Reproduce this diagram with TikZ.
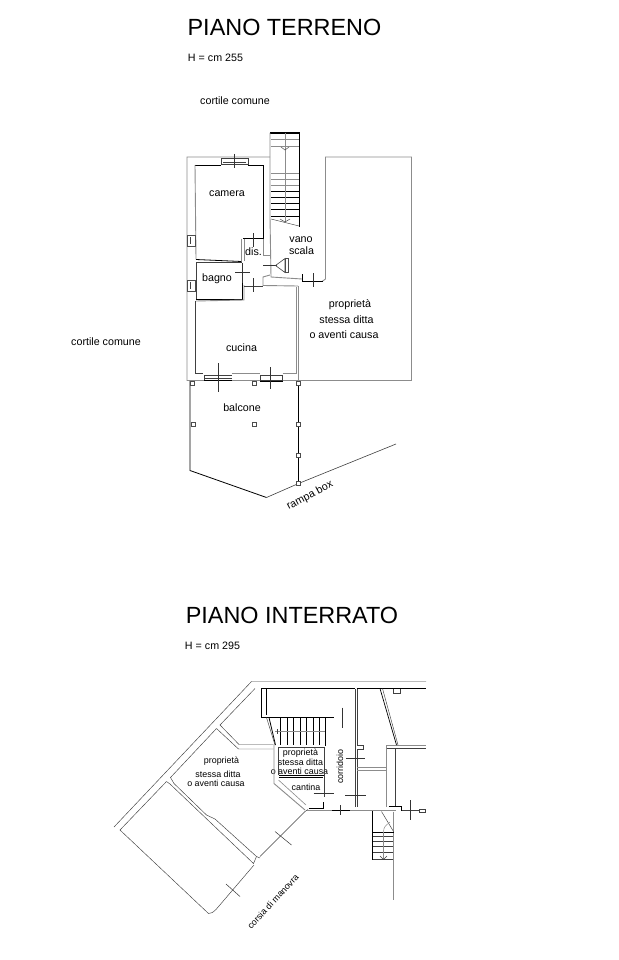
\documentclass[tikz,border=0pt]{standalone}
\usepackage{fontspec}
\setmainfont{Liberation Sans}
\definecolor{wallgray}{gray}{0.55}
\tikzset{
	title/.style={font=\fontsize{23.4}{25}\selectfont},
	label/.style={font=\fontsize{10.7}{12}\selectfont,inner sep=0pt},
	smalllabel/.style={font=\fontsize{8.9}{10}\selectfont,inner sep=0pt},
	wall/.style={draw=wallgray,line width=0.9pt},
	thinwall/.style={draw=black!75,line width=0.45pt},
	heavy/.style={draw=black,line width=1.2pt},
	tick/.style={draw=black!80,line width=0.5pt},
	pillar/.style={draw=black!70,line width=0.5pt,fill=white}
}
\begin{document}
\begin{tikzpicture}[x=1pt,y=-1pt]
	\useasboundingbox[fill=white] (0,0) rectangle (618,960);

	% piano terreno
	\node [title] (t1) at (284.5,27) {PIANO TERRENO};
	\node [label] (h1) at (215.5,58) {H = cm 255};
	\node [label] (c1) at (235,101) {cortile comune};
	\node [label] (c2) at (106,341.5) {cortile comune};
	\node [label] (camera) at (227,193.5) {camera};
	\node [label] (vano) at (301,240) {vano};
	\node [label] (scala) at (301.5,250.5) {scala};
	\node [label] (dis) at (253.5,251.5) {dis.};
	\node [label] (bagno) at (217,279) {bagno};
	\node [label] (cucina) at (241.5,347.5) {cucina};
	\node [label] (p1) at (350,305) {proprietà};
	\node [label] (p2) at (346.5,320) {stessa ditta};
	\node [label] (p3) at (344,335) {o aventi causa};
	\node [label] (balcone) at (242,407.5) {balcone};
	\node [label,rotate=28] (rampa) at (310,495.5) {rampa box};

	% perimetro
	\draw [wall] (270,157) -- (187,157) -- (187,380.5) -- (411.5,380.5) -- (411.5,157) -- (325.5,157) -- (325.5,279) -- (322,281.5);
	\draw [wall] (298.5,286) -- (298.5,380.5);
	% scala
	\draw [heavy] (270,133) -- (299.5,133) -- (299.5,226.5);
	\draw [wall] (270,133) -- (270,217) -- (271,277) -- (302,279);
	\foreach \y in {139,146,173,179,185} \draw [wall,line width=0.5pt] (271,\y) -- (299,\y);
	\foreach \y in {191,197,203,209,216} \draw [thinwall,black] (271,\y) -- (299,\y);
	\draw [wall,line width=0.5pt] (285,133) -- (285,222);
	\draw [thinwall] (281,147) -- (285,150) -- (289,147);
	\draw [thinwall] (271,219) -- (299,226);
	\draw [thinwall] (280,219) -- (285,222) -- (290,219);
	% stanze
	\draw [heavy,line width=0.8pt] (195,165) -- (221,165);
	\draw [heavy,line width=0.8pt] (248,165) -- (263.5,165) -- (263.5,238.5) -- (243,238.5);
	\draw [wall] (195,165) -- (196,259);
	\draw [heavy,line width=0.8pt] (196,259.5) -- (241.5,261.5);
	\draw [wall] (241.5,238.5) -- (241.5,261);
	\draw [wall] (244,238.5) -- (244,261);
	\draw [wall] (263.5,238.5) -- (263.5,255) -- (270,255);
	\draw [wall] (270,275) -- (263,277) -- (263,285.5) -- (298,286);
	\draw [thinwall] (196,262) -- (196,299.5);
	\draw [heavy,line width=0.8pt] (196,299.5) -- (242.5,299.5) -- (242.5,270);
	\draw [wall] (244,285) -- (244,300) -- (196,301);
	\draw [thinwall] (196,262) -- (241.5,262);
	\draw [thinwall] (244,286) -- (263,286);
	\draw [thinwall] (195.5,301) -- (195.5,373.5) -- (203,373.5);
	\draw [wall] (232,373.5) -- (260,373.5);
	\draw [wall] (282.5,373.5) -- (296.5,373.5) -- (296.5,286.5);
	\draw [heavy,line width=0.8pt] (302,274) -- (302,281) -- (323,281);
	% finestre
	\draw [thinwall] (221,164) -- (221,158) -- (248,158) -- (248,164) -- cycle;
	\draw [thinwall] (223,162) -- (246,162);
	\draw [pillar] (187,235) rectangle (195,246);
	\draw [pillar] (187,280) rectangle (195,291);
	\draw [thinwall] (190.5,237) -- (190.5,244);
	\draw [thinwall] (190.5,282) -- (190.5,289);
	\draw [thinwall] (204,375) -- (231.5,375);
	\draw [heavy,line width=0.8pt] (204,380.5) -- (231.5,380.5);
	\draw [thinwall] (204,378) -- (231.5,378) (204,375) -- (204,380);
	\draw [thinwall] (260,375) rectangle (282.5,380.5);
	\draw [heavy,line width=0.8pt] (260,381) -- (282.5,381);
	% tacche
	\draw [tick] (234,154) -- (234,168);
	\draw [tick] (253.5,233) -- (253.5,247);
	\draw [tick] (235,272.5) -- (250,272.5) (242.5,263) -- (242.5,283);
	\draw [tick] (253.5,278) -- (253.5,292);
	\draw [tick] (263,265.5) -- (277,265.5);
	\draw [tick] (313.5,273) -- (313.5,287);
	\draw [tick] (218.5,363) -- (218.5,391.5);
	\draw [tick] (270.5,367) -- (270.5,389);
	% triangolo scala
	\draw [thinwall,line width=0.6pt] (275.5,265.5) -- (285,258.5) -- (285,272.5) -- cycle;
	\draw [pillar] (285,258.5) rectangle (288.5,272.5);
	% balcone
	\draw [heavy,line width=0.8pt] (190,381) -- (190,470.5) -- (266.5,497.5);
	\draw [heavy] (298.5,381) -- (298.5,483.5);
	\draw [thinwall,line width=0.6pt] (266.5,497.5) -- (298.5,483.5) -- (396,444);
	\foreach \x/\y in {192.5/383,254.5/383,298.5/383,193/424,254.5/424,298.5/424,298.5/455.5,298.5/483.5}
		\draw [pillar] (\x-2,\y-2) rectangle (\x+2,\y+2);

	% piano interrato
	\node [title] (t2) at (292,615) {PIANO INTERRATO};
	\node [label] (h2) at (212.5,646) {H = cm 295};
	\node [smalllabel] (q1) at (221.5,761.5) {proprietà};
	\node [smalllabel] (q2) at (218,774) {stessa ditta};
	\node [smalllabel] (q3) at (216,783.5) {o aventi causa};
	\node [smalllabel] (r1) at (300.5,753.5) {proprietà};
	\node [smalllabel] (r2) at (300.5,762.5) {stessa ditta};
	\node [smalllabel] (r3) at (299.5,771) {o aventi causa};
	\node [smalllabel] (cantina) at (306,787) {cantina};
	\node [smalllabel,rotate=90] (corridoio) at (340,766.5) {corridoio};
	\node [smalllabel,rotate=47] (corsia) at (273,901.5) {corsia di manovra};

	% contorno
	\draw [thinwall] (114,827) -- (251.5,681.5) -- (426,681.5);
	\draw [thinwall] (255,688.5) -- (220,725) -- (239,744.5) -- (273.5,744.5);
	\draw [thinwall] (216.5,728.5) -- (170.5,777.5) -- (174,783.5) -- (206.5,815) -- (215,819) -- (256.5,856.5);
	\draw [thinwall] (216.5,728.5) -- (238.5,749) -- (273.5,749);
	\draw [thinwall] (166.5,781.5) -- (120,830) -- (208.5,913.5) .. controls (212,913) .. (216,909.5) -- (254,865);
	\draw [thinwall] (166.5,781.5) -- (170,784) -- (253.5,863.5) -- (256.5,856.5) -- (260,858);
	\draw [thinwall] (260,856.5) -- (305,811.5) -- (308,809.5);
	\draw [tick] (275,831.5) -- (291.5,845);
	\draw [tick] (226,884) -- (240,896.5);
	% muri neri
	\draw [heavy] (333.5,717.5) -- (261.5,717.5) -- (261.5,688.5) -- (355,688.5);
	\draw [heavy] (356.5,688.5) -- (426,688.5);
	\draw [heavy,line width=0.7pt] (266,688.5) -- (266,715);
	\draw [thinwall] (355,688.5) -- (355,807);
	\draw [thinwall] (357,688.5) -- (357,745);
	\draw [thinwall] (357,749.5) -- (357,807);
	% scala
	\draw [thinwall] (266.5,717.5) -- (275,745);
	\draw [heavy,line width=0.8pt] (269,717.5) -- (275.5,745);
	\foreach \x in {280.5,287,293.5,300.5,306.5,313.5,319.5} \draw [thinwall,black] (\x,717.5) -- (\x,745);
	\draw [wall,line width=0.6pt] (275,731.5) -- (325.5,731.5);
	\draw [heavy,line width=0.8pt] (325.5,717.5) -- (325.5,746);
	\draw [thinwall] (277,729) -- (277,734);
	% cantina
	\draw [wall] (274,745) -- (274,783.5) -- (305,810);
	\draw [wall,line width=0.6pt] (278.5,780) -- (306,805);
	\draw [thinwall] (324.5,747.5) -- (278.5,747.5) -- (278.5,775);
	\draw [heavy,line width=0.8pt] (278.5,775) -- (324.5,775);
	\draw [heavy,line width=0.8pt] (278.5,777.5) -- (323,777.5);
	\draw [thinwall] (324.5,747.5) -- (324.5,797);
	\draw [heavy,line width=0.8pt] (308.5,808.5) -- (323.5,808.5) -- (323.5,802);
	\draw [wall] (307,810) -- (332,810);
	\draw [thinwall,black] (332,810) -- (350,810);
	\draw [wall] (350,810) -- (396,810);
	\draw [heavy,line width=0.8pt] (388.5,806.5) -- (401.5,806.5) -- (401.5,811);
	\draw [thinwall] (401.5,810) -- (419.5,810);
	\draw [thinwall] (419.5,809.5) rectangle (425.5,812.5);
	% corridoio
	\draw [wall] (357,767.5) -- (386.5,767.5);
	\draw [wall,line width=0.5pt] (357,770) -- (386.5,770);
	\draw [wall] (386.5,745) -- (386.5,807);
	\draw [thinwall] (357,745) -- (363.5,745) -- (363.5,749.5) -- (357,749.5);
	\draw [thinwall] (386.5,748.5) -- (395.5,748.5) -- (395.5,806);
	\draw [wall] (386.5,745) -- (426,745);
	\draw [thinwall] (395.5,748.5) -- (426,748.5);
	\draw [heavy,line width=0.7pt] (380,688.5) -- (396.5,745);
	\draw [thinwall] (382.5,688.5) -- (398,745);
	\draw [thinwall] (393.5,688.5) -- (393.5,693.5) -- (400,693.5) -- (400,688.5);
	% tacche
	\draw [tick] (342.5,707.5) -- (342.5,727.5);
	\draw [tick] (346,758.5) -- (365,758.5);
	\draw [tick] (345,795.5) -- (366,795.5);
	\draw [tick] (313.5,793.5) -- (334,793.5);
	\draw [tick] (340,805) -- (340,815);
	\draw [tick] (410,800) -- (410,820);
	% scala esterna
	\draw [heavy,line width=0.9pt] (372.5,811) -- (372.5,859.5);
	\draw [wall,line width=1.2pt] (393.5,811.5) -- (393.5,900);
	\draw [heavy,line width=0.9pt] (373,832.5) -- (394,832.5);
	\foreach \y in {836.5,841.5,846.5,852.5,859.5} \draw [thinwall] (373,\y) -- (393,\y);
	\draw [thinwall] (381.5,811.5) -- (393.5,831.5);
	\draw [wall,line width=0.5pt] (383.5,832) .. controls (384,827) .. (390,822);
	\draw [wall,line width=0.5pt] (383.5,832) -- (383.5,859);
	\draw [thinwall] (380,856) -- (383.5,859.5) -- (387,856);
\end{tikzpicture}
\end{document}
